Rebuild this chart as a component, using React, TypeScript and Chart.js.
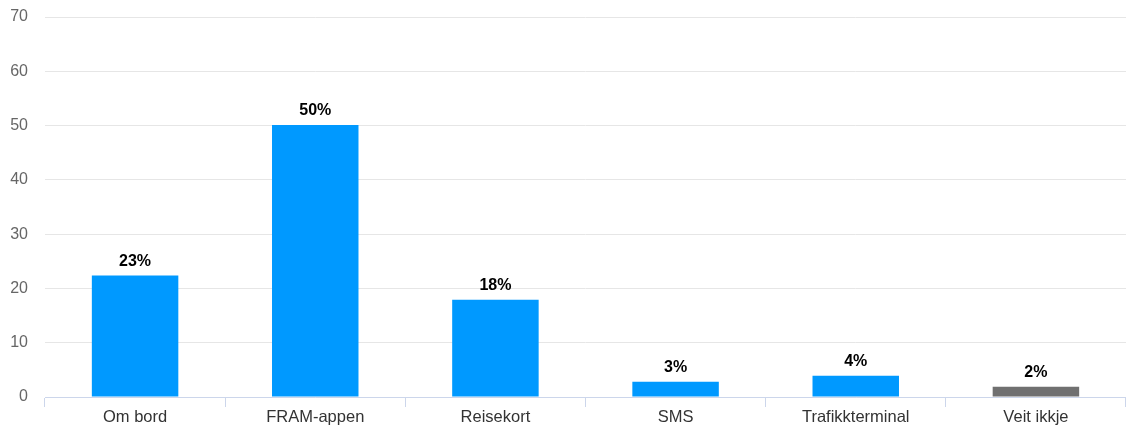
import React, { useEffect, useRef } from "react";
import { Chart, registerables } from "chart.js";

Chart.register(...registerables);

const categories = ["Om bord", "FRAM-appen", "Reisekort", "SMS", "Trafikkterminal", "Veit ikkje"];
const values = [22.4, 50.1, 17.9, 2.8, 3.9, 1.9];
const valueLabels = ["23%", "50%", "18%", "3%", "4%", "2%"];
const barColors = ["#0099ff", "#0099ff", "#0099ff", "#0099ff", "#0099ff", "#707070"];
const yTicks = [0, 10, 20, 30, 40, 50, 60, 70];

const FONT = "'Liberation Sans', Arial, sans-serif";

const labelPlugin = {
  id: "valueLabels",
  afterDatasetsDraw(chart: any) {
    const ctx = chart.ctx;
    const meta = chart.getDatasetMeta(0);
    ctx.save();
    ctx.font = `bold 16px ${FONT}`;
    ctx.fillStyle = "#000";
    ctx.textAlign = "center";
    ctx.textBaseline = "bottom";
    meta.data.forEach((bar: any, i: number) => {
      ctx.fillText(valueLabels[i], bar.x, bar.y - 6);
    });
    ctx.restore();
  },
};

export default function App() {
  const ref = useRef<HTMLCanvasElement | null>(null);
  useEffect(() => {
    document.body.style.margin = "0";
    const chart = new Chart(ref.current as HTMLCanvasElement, {
      type: "bar",
      data: {
        labels: categories,
        datasets: [
          {
            data: values,
            backgroundColor: barColors,
            borderWidth: 0,
            barPercentage: 0.48,
            categoryPercentage: 1,
          },
        ],
      },
      options: {
        animation: false,
        responsive: false,
        maintainAspectRatio: false,
        layout: { padding: { top: 17, right: 0, left: 0, bottom: 0 } },
        plugins: { legend: { display: false }, tooltip: { enabled: false } },
        scales: {
          x: {
            offset: true,
            grid: {
              offset: true,
              drawOnChartArea: false,
              drawTicks: true,
              tickLength: 10,
              color: "#ccd6eb",
            },
            border: { display: true, color: "#ccd6eb" },
            ticks: {
              color: "#333",
              font: { family: FONT, size: 16.5 },
              padding: 1,
              maxRotation: 0,
            },
            afterFit: (s: any) => {
              s.height = 28;
              s.paddingLeft = 0;
              s.paddingRight = 0;
            },
          },
          y: {
            min: 0,
            max: 70,
            afterBuildTicks: (s: any) => {
              s.ticks = yTicks.map((v) => ({ value: v }));
            },
            grid: { color: "#e6e6e6", drawTicks: false },
            border: { display: false },
            ticks: {
              color: "#666",
              font: { family: FONT, size: 16 },
              padding: 17,
            },
            afterFit: (s: any) => {
              s.width = 45;
              s.paddingTop = 0;
              s.paddingBottom = 0;
            },
          },
        },
      },
      plugins: [labelPlugin],
    });
    return () => chart.destroy();
  }, []);
  return (
    <div style={{ width: 1126, height: 425 }}>
      <canvas ref={ref} width={1126} height={425} style={{ display: "block" }} />
    </div>
  );
}
